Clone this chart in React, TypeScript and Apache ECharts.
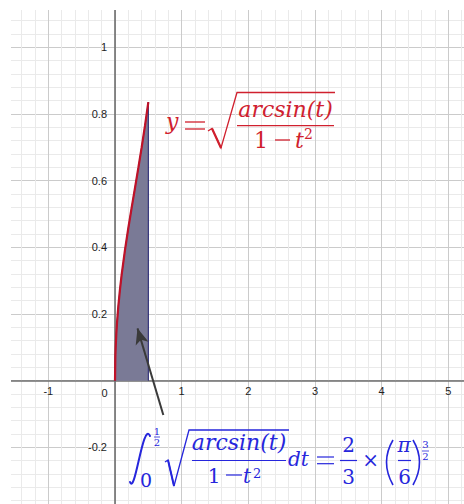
import React, { useEffect, useRef } from "react";
import * as echarts from "echarts";

// Sampled values of the integrand y = sqrt(arcsin(t) / (1 - t^2)) on [0, 1/2]
const tValues = [0, 0.005, 0.01, 0.02, 0.03, 0.05, 0.075, 0.1, 0.15, 0.2, 0.25, 0.3, 0.35, 0.4, 0.45, 0.5];
const yValues = [0, 0.0707, 0.1, 0.1415, 0.1733, 0.2239, 0.2748, 0.3181, 0.3925, 0.458, 0.5192, 0.5786, 0.6383, 0.6999, 0.765, 0.8355];

// Axis ranges and tick spacing
const xRange = [-2, 6];
const yRange = [-0.4, 1.2];
const xStep = 1;
const yStep = 0.2;
// tick labels that fall inside the visible window
const xLabelRange = [-1, 5];
const yLabelRange = [-0.2, 1];

// Pointer from the integral expression to the shaded area
const arrowFrom = [0.725, -0.103];
const arrowTo = [0.3375, 0.157];

const RED = "#d0202e";
const BLUE = "#2626dc";
const CURVE = "#bf1228";
const MATH = '"DejaVu Serif", "Liberation Serif", serif';
const SANS = '"Liberation Sans", Arial, sans-serif';

// plot-area layout (pixels)
const GRID = { left: -18.33, right: -51, top: -19.3, bottom: -10 };
const ORIGIN_SHIFT = 133.33; // distance from grid edge to the zero line on both axes

const tx = (x: number, y: number, text: string, size: number, fill: string, italic = false, align = "left") => ({
  type: "text",
  x,
  y,
  z: 60,
  silent: true,
  style: {
    text,
    fill,
    font: `${italic ? "italic " : ""}${size}px ${MATH}`,
    align,
    verticalAlign: "middle",
  },
});

const ln = (x1: number, y1: number, x2: number, y2: number, stroke: string, w = 1.2) => ({
  type: "line",
  z: 60,
  silent: true,
  shape: { x1, y1, x2, y2 },
  style: { stroke, lineWidth: w },
});

const poly = (points: number[][], stroke: string, w = 1.3) => ({
  type: "polyline",
  z: 60,
  silent: true,
  shape: { points },
  style: { stroke, lineWidth: w, fill: null },
});

const paren = (x1: number, y1: number, cx: number, cy: number, x2: number, y2: number, stroke: string) => ({
  type: "bezierCurve",
  z: 60,
  silent: true,
  shape: { x1, y1, cpx1: cx, cpy1: cy, x2, y2 },
  style: { stroke, lineWidth: 1.6, fill: null },
});

function buildGraphics() {
  const g: any[] = [
    // white margins at the top and left of the drawing area
    { type: "rect", z: 40, silent: true, shape: { x: 0, y: 0, width: 11, height: 504 }, style: { fill: "#fff" } },
    { type: "rect", z: 40, silent: true, shape: { x: 0, y: 0, width: 464, height: 10 }, style: { fill: "#fff" } },
    {
      type: "text",
      z: 60,
      silent: true,
      x: 104.5,
      y: 392.5,
      style: { text: "0", fill: "#222", font: `11px ${SANS}`, align: "center", verticalAlign: "middle" },
    },
  ];

  // y = sqrt( arcsin(t) / (1 - t^2) )
  g.push(tx(166, 121, "y", 22, RED, true));
  g.push(ln(185, 122, 205, 122, RED, 1.3), ln(185, 129, 205, 129, RED, 1.3));
  g.push(poly([[208, 131], [212, 128.5], [221, 148], [237, 92.5], [335, 92.5]], RED, 1.3));
  g.push(ln(212, 128.5, 221, 148, RED, 2.2));
  g.push(tx(285.5, 109, "arcsin(t)", 22, RED, true, "center"));
  g.push(ln(237, 125.7, 334, 125.7, RED, 1.3));
  g.push(tx(261, 140.5, "1", 22, RED, false, "center"));
  g.push(ln(275, 140, 290, 140, RED, 1.3));
  g.push(tx(295, 140.5, "t", 22, RED, true));
  g.push(tx(304, 134, "2", 14, RED));

  // ∫_0^{1/2} sqrt( arcsin(t) / (1 - t^2) ) dt = 2/3 × (π/6)^{3/2}
  g.push({
    type: "bezierCurve",
    z: 60,
    silent: true,
    shape: { x1: 130, y1: 482, cpx1: 135, cpy1: 496, cpx2: 143, cpy2: 420, x2: 150, y2: 436 },
    style: { stroke: BLUE, lineWidth: 2, lineCap: "round", fill: null },
  });
  g.push(tx(157, 431, "1", 10, BLUE, false, "center"));
  g.push(ln(154, 437, 160, 437, BLUE, 0.8));
  g.push(tx(157, 442, "2", 10, BLUE, false, "center"));
  g.push(tx(146, 480, "0", 19, BLUE, false, "center"));
  g.push(poly([[165, 462], [168, 460], [174, 486], [189, 430], [289, 430]], BLUE, 1.3));
  g.push(ln(168, 460, 174, 486, BLUE, 2));
  g.push(tx(239, 442.5, "arcsin(t)", 22, BLUE, true, "center"));
  g.push(ln(192, 460.5, 286, 460.5, BLUE, 1.2));
  g.push(tx(214, 475.5, "1", 20, BLUE, false, "center"));
  g.push(ln(226, 475, 242, 475, BLUE, 1.2));
  g.push(tx(243, 475.5, "t", 20, BLUE, true));
  g.push(tx(253, 473, "2", 13, BLUE));
  g.push(tx(288, 458.5, "dt", 20, BLUE, true));
  g.push(ln(317, 457, 334, 457, BLUE, 1.2), ln(317, 463.7, 334, 463.7, BLUE, 1.2));
  g.push(tx(348.5, 445, "2", 20, BLUE, false, "center"));
  g.push(ln(340, 460.5, 357, 460.5, BLUE, 1.2));
  g.push(tx(348.5, 476.5, "3", 20, BLUE, false, "center"));
  g.push(tx(370.5, 460, "×", 20, BLUE, false, "center"));
  g.push(paren(393, 440, 380, 462, 393, 485, BLUE));
  g.push(tx(404, 445, "π", 20, BLUE, true, "center"));
  g.push(ln(398, 460.5, 411, 460.5, BLUE, 1.2));
  g.push(tx(404.5, 476.5, "6", 20, BLUE, false, "center"));
  g.push(paren(413, 440, 426, 462, 413, 485, BLUE));
  g.push(tx(425.5, 444.5, "3", 10, BLUE, false, "center"));
  g.push(ln(422, 451, 429, 451, BLUE, 0.8));
  g.push(tx(425.5, 456.5, "2", 10, BLUE, false, "center"));
  return g;
}

const inRange = (v: number, r: number[]) => v >= r[0] - 1e-9 && v <= r[1] + 1e-9;

export default function App() {
  const ref = useRef<HTMLDivElement>(null);

  useEffect(() => {
    if (!ref.current) return;
    const chart = echarts.init(ref.current, null, { renderer: "svg" });

    const curve = tValues.map((t, i) => [t, yValues[i]]);
    const region = [...curve, [tValues[tValues.length - 1], 0]];

    const axisCommon = {
      type: "value",
      offset: -ORIGIN_SHIFT,
      axisTick: { show: false },
      minorTick: { show: false, splitNumber: 5 },
      splitLine: { show: true, lineStyle: { color: "#cbcbcb", width: 1 } },
      minorSplitLine: { show: true, lineStyle: { color: "#eaeaea", width: 1 } },
      axisLine: { show: true, onZero: false, lineStyle: { color: "#6e6e6e", width: 1.6 } },
    };

    chart.setOption({
      animation: false,
      backgroundColor: "#fff",
      grid: { ...GRID, containLabel: false, outerBoundsMode: "none" },
      xAxis: {
        ...axisCommon,
        position: "bottom",
        min: xRange[0],
        max: xRange[1],
        interval: xStep,
        axisLabel: {
          color: "#222",
          fontSize: 11,
          fontFamily: SANS,
          margin: 5,
          formatter: (v: number) =>
            Math.abs(v) < 1e-9 || !inRange(v, xLabelRange) ? "" : String(Math.round(v)),
        },
      },
      yAxis: {
        ...axisCommon,
        position: "left",
        min: yRange[0],
        max: yRange[1],
        interval: yStep,
        axisLabel: {
          color: "#222",
          fontSize: 11,
          fontFamily: SANS,
          margin: 8,
          formatter: (v: number) =>
            Math.abs(v) < 1e-9 || !inRange(v, yLabelRange) ? "" : String(Math.round(v * 10) / 10),
        },
      },
      series: [
        {
          type: "line",
          data: region,
          showSymbol: false,
          silent: true,
          z: 2,
          lineStyle: { color: "#1c1c6e", width: 1 },
          areaStyle: { color: "#7a7a96", opacity: 1 },
        },
        {
          type: "line",
          data: curve,
          showSymbol: false,
          silent: true,
          z: 3,
          lineStyle: { color: CURVE, width: 2.2 },
        },
        {
          type: "line",
          data: [],
          silent: true,
          z: 4,
          markLine: {
            silent: true,
            symbol: ["none", "arrow"],
            symbolSize: [10, 16],
            label: { show: false },
            lineStyle: { color: "#3a3a3a", width: 2, type: "solid" },
            emphasis: { disabled: true },
            data: [[{ coord: arrowFrom }, { coord: arrowTo }]],
          },
        },
      ],
      graphic: buildGraphics(),
    });

    return () => chart.dispose();
  }, []);

  return <div ref={ref} style={{ position: "fixed", left: 0, top: 0, width: 464, height: 504 }} />;
}
